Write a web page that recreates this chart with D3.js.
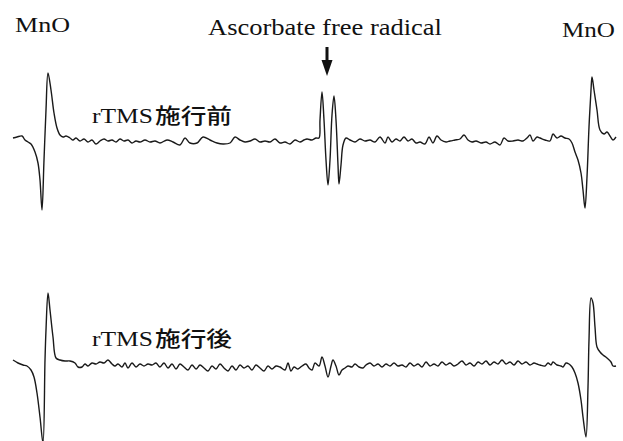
<!DOCTYPE html>
<html>
<head>
<meta charset="utf-8">
<script src="https://cdn.jsdelivr.net/npm/d3@7"></script>
<style>
  body { margin: 0; background: #fff; }
  svg { display: block; }
  .trace { fill: none; stroke: #1a1a1a; stroke-width: 1.4; stroke-linejoin: round; }
  .serif { font-family: "Liberation Serif", "Times New Roman", serif; fill: #111; }
  .cjk { font-family: "Noto Sans CJK JP", sans-serif; font-weight: 500; fill: #111; }
</style>
</head>
<body>
<div id="chart"></div>
<script>
// ESR spectra, field position (arbitrary units) vs. signal
const fieldBefore = [0,4,9,12,15,18,22,25,27,29,31,33,35,38,41,44,47,50,53,57,60,63,67,71,75,79,83,87,91,95,99,103,107,111,115,119,123,127,132,137,142,147,154,160,167,172,177,184,190,197,204,210,217,222,227,232,237,242,247,252,257,262,267,272,277,282,287,291,294,299,303,306,307,309,311,313,315,317,319,321,323,325,326,328,330,333,337,342,347,352,357,362,367,372,375,379,383,387,391,395,399,403,407,412,416,420,424,428,433,437,442,447,451,455,459,463,468,473,477,482,487,491,495,500,505,510,514,517,520,524,527,532,537,540,544,548,552,556,559,562,565,568,570,572,574,576,578,579,581,584,587,591,594,597,600,603];
const signalBefore = [2,3,4,0,-2,-4,-12,-23,-40,-70,-20,30,67,50,27,12,5,3,4,2,0,2,-1,1,-2,0,-4,-1,1,-1,0,-2,1,-1,0,-3,-1,-2,0,-2,-1,-3,0,-2,-5,2,-3,-3,3,0,-3,-4,-3,3,0,-2,-1,1,-2,-1,-2,1,-3,-2,-4,0,-2,0,1,0,2,2,20,48,20,-20,-45,-20,25,44,20,-25,-44,-25,-5,2,0,-2,1,-1,0,-2,3,-3,3,-2,1,-1,3,-1,1,-3,-2,-4,3,-3,4,0,-2,-1,0,1,5,0,-2,-1,-3,-2,-4,-2,-5,2,-1,-1,0,-1,2,5,-1,3,2,0,-1,6,2,4,2,1,-3,-12,-20,-33,-50,-68,-37,13,50,63,50,30,10,6,8,4,0,3];

const fieldAfter = [0,5,10,14,18,21,24,27,30,32,33,35,37,40,43,47,52,57,62,65,69,72,75,79,83,87,91,95,99,102,105,109,112,115,119,123,127,131,135,139,143,147,151,155,159,163,167,171,175,179,183,187,191,195,199,203,207,211,215,219,223,227,231,235,239,243,247,251,255,259,263,267,272,275,278,281,285,289,293,296,299,302,306,309,312,315,318,320,323,326,329,332,335,339,342,346,350,353,357,361,365,369,373,377,381,385,389,393,397,401,405,409,413,417,421,425,429,433,437,441,445,449,453,457,461,465,469,473,477,481,485,489,493,497,501,505,509,513,517,521,524,527,532,535,538,540,544,548,550,553,556,559,562,565,568,570,573,575,576,578,580,582,584,587,590,594,598,600,603];
const signalAfter = [5,2,0,-1,-5,-12,-28,-52,-78,5,35,72,55,28,7,5,4,4,2,-2,-2,1,-1,2,1,3,2,5,1,-1,1,-2,2,-3,2,-2,1,-1,1,0,2,-2,2,-3,1,-4,1,-2,-5,0,-4,0,-3,-6,-1,-4,1,-3,-6,-1,-5,0,-3,-1,-5,0,-3,-6,-1,-4,-1,-2,-5,2,-6,-2,-4,-1,1,-3,-5,2,-1,8,-1,-12,-1,5,-1,-10,-5,-3,-1,-2,1,-2,-3,0,2,-1,1,-2,1,-1,2,-1,0,-2,2,-1,1,-2,3,-1,1,-1,3,0,2,-1,1,4,0,2,-1,3,1,4,0,3,1,5,1,3,0,4,1,3,0,2,1,0,-1,2,0,3,0,-1,-2,2,1,-2,-8,-18,-35,-52,-72,-22,25,67,62,38,18,13,10,7,3,-1,-1];

const topLabels = ["MnO", "Ascorbate free radical", "MnO"];
const traceLabels = ["施行前", "施行後"];

const width = 623, height = 441;

const svg = d3.select('#chart').append('svg')
  .attr('width', width)
  .attr('height', height);

const x = d3.scaleLinear().domain([0, 604]).range([13, 617]);
const yTop = d3.scaleLinear().domain([-80, 80]).range([220, 60]);
const yBottom = d3.scaleLinear().domain([-80, 80]).range([445, 285]);

function drawTrace(field, signal, yScale) {
  const pts = field.map((f, i) => [f, signal[i]]);
  const line = d3.line()
    .x(d => x(d[0]))
    .y(d => yScale(d[1]))
    .curve(d3.curveCatmullRom.alpha(0.5));
  svg.append('path')
    .datum(pts)
    .attr('class', 'trace')
    .attr('d', line);
}

drawTrace(fieldBefore, signalBefore, yTop);
drawTrace(fieldAfter, signalAfter, yBottom);

// header labels
svg.append('text').attr('class', 'serif')
  .attr('x', 15).attr('y', 32)
  .style('font-size', '22px')
  .attr('textLength', 55).attr('lengthAdjust', 'spacingAndGlyphs')
  .text(topLabels[0]);

svg.append('text').attr('class', 'serif')
  .attr('x', 208).attr('y', 35)
  .style('font-size', '24px')
  .attr('textLength', 234).attr('lengthAdjust', 'spacingAndGlyphs')
  .text(topLabels[1]);

svg.append('text').attr('class', 'serif')
  .attr('x', 562).attr('y', 37)
  .style('font-size', '22px')
  .attr('textLength', 53).attr('lengthAdjust', 'spacingAndGlyphs')
  .text(topLabels[2]);

// arrow pointing at the radical signal
svg.append('rect')
  .attr('x', 325.5).attr('y', 47)
  .attr('width', 3).attr('height', 15)
  .attr('fill', '#111');
svg.append('path')
  .attr('d', 'M321.5,60 L332.5,60 L327,76 Z')
  .attr('fill', '#111');

// trace labels
function traceLabel(ly, cjk) {
  svg.append('text').attr('class', 'serif')
    .attr('x', 92).attr('y', ly)
    .style('font-size', '21px')
    .attr('textLength', 61).attr('lengthAdjust', 'spacingAndGlyphs')
    .text('rTMS');
  svg.append('text').attr('class', 'cjk')
    .attr('x', 155).attr('y', ly)
    .style('font-size', '21px')
    .attr('textLength', 77).attr('lengthAdjust', 'spacingAndGlyphs')
    .text(cjk);
}
traceLabel(123, traceLabels[0]);
traceLabel(346, traceLabels[1]);
</script>
</body>
</html>
